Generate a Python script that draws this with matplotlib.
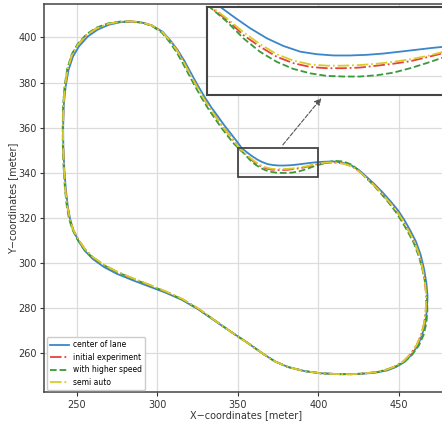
import matplotlib
matplotlib.use('Agg')
import matplotlib.pyplot as plt
from matplotlib.patches import Rectangle

# track coordinates
center_x = [413.6, 401.3, 391.2, 381.1, 373.0, 366.0, 355.9, 345.8, 335.7, 325.6, 315.5, 305.4, 295, 285, 275, 267, 260,
            255, 251, 248, 246, 244.6, 243.3, 242.4, 241.8, 241.7, 242.1, 243.2, 245.0, 247.8, 251.5, 257, 263, 270,
            277, 284, 291, 297, 303.4, 308.4, 312.9, 317.0, 321.0, 325.0, 329.3, 333.6, 337.7, 341.7, 345.8, 349.9,
            352.6, 355.3, 358.6, 362.0, 365.3, 368.7, 372.0, 375.4, 378.7, 382.1, 385.4, 388.8, 392.1, 395.4, 399.5,
            404.5, 409.6, 415.6, 420.7, 425.2, 429.8, 434.8, 439.9, 444.9, 449.5, 453.3, 457.0, 460.6, 463.6, 465.7,
            467.1, 467.8, 467.4, 466.4, 464.4, 461.6, 457.5, 453.3, 448.0, 442.9, 435.8, 427.7, 420.7, 413.6]
center_y = [250.7, 251.1, 252.1, 253.9, 256.4, 259.6, 264.7, 269.5, 274.4, 279.4, 283.6, 286.8, 289.6, 292.3, 295.2,
            298.2, 301.8, 305.5, 310.0, 314.5, 319.5, 325, 333, 342, 352, 360, 370, 378, 385.5, 391.5, 396, 400.4,
            403.4, 405.6, 406.7, 407.0, 406.5, 405.2, 402.5, 398.5, 394.2, 389.5, 384.2, 379, 373.8, 369, 365, 361,
            357.3, 353.5,
            350.85, 349.3, 347.5, 345.9, 344.7, 343.8, 343.4, 343.2, 343.2, 343.3, 343.5, 343.8, 344.1, 344.4, 344.7,
            344.9, 345.0, 344.4, 343.2, 341.2, 338.3, 335.0, 331.3, 327.3, 323.3, 319.2, 314.5, 309.5, 303.5, 297.1,
            291, 285.3, 279, 273.5, 268, 263.2, 259, 256, 253.8, 252.4, 251.4, 250.9, 250.7, 250.7]

initial_x = [413.6, 401.3, 391.2, 381.1, 373.0, 366.0, 355.9, 345.8, 335.7, 325.6, 315.5, 305.4, 295, 285, 275, 267, 260,
             255, 251, 247.8, 245.7, 244.2, 243.0, 242.2, 241.7, 241.6, 241.9, 242.8, 244.5, 247.2, 250.9, 256.4,
             262.5, 269.6, 276.8, 284, 291, 297, 303.4, 308.2, 312.6, 316.5, 320.4, 324.4, 328.5, 332.7, 336.7,
             340.6, 344.6, 348.5,
             350.9, 354.0, 357.3, 360.6, 364.0, 367.3, 370.7, 374.0, 377.4, 380.7, 384.1, 387.4, 390.8, 394.1, 397.1,
             404.5, 409.6, 415.6, 420.7, 424.9, 429.4, 434.3, 439.3, 444.2, 448.8, 452.5, 456.2, 459.8, 462.8, 464.9,
             466.3, 467.0, 466.7, 465.8, 463.9, 461.1, 457.1, 453.0, 447.8, 442.7, 435.8, 427.7, 420.7, 413.6]
initial_y = [250.7, 251.1, 252.1, 253.9, 256.4, 259.6, 264.7, 269.5, 274.6, 279.7, 284.0, 287.3, 290.3, 293.1, 296.1,
             299.1, 302.6, 306.3, 310.6, 314.9, 320, 325.5, 333, 342, 352, 360, 370, 378.3, 386, 392.2, 396.8, 401.1,
             404.0, 406.0, 406.9, 407.1, 406.6, 405.2, 402.3, 398.3, 393.9, 389.1, 383.8, 378.6, 373.4, 368.6, 364.5,
             360.5, 356.8, 353.2,
             350.6, 348.8, 346.4, 344.6, 343.0, 342.0, 341.4, 341.2, 341.2, 341.3, 341.6, 341.9, 342.3, 342.9, 343.5,
             344.3, 344.6, 344.1, 342.9, 340.9, 338.0, 334.7, 331.0, 326.9, 322.9, 318.8, 314.1, 309.1, 303.2, 297.0,
             291, 285.3, 279, 273.6, 268.3, 263.6, 259.5, 256.5, 254.2, 252.8, 251.6, 251.0, 250.7, 250.7]

speed_x = [413.6, 401.3, 391.2, 381.1, 373.0, 366.0, 355.9, 345.8, 335.7, 325.6, 315.5, 305.4, 295, 285, 275, 267, 260,
           254.7, 250.5, 247.3, 245.2, 243.9, 242.8, 242.0, 241.5, 241.4, 241.7, 242.6, 244.3, 247.0, 250.7, 256.2,
           262.3, 269.5, 276.8, 284, 291, 296.8, 303.0, 307.7, 312.0, 315.9, 319.8, 323.8, 328.0, 332.2, 336.2,
           340.1, 344.1, 348.0,
           351.0, 354.0, 357.3, 360.6, 364.0, 367.3, 370.7, 374.0, 377.4, 380.7, 384.1, 387.4, 390.8, 394.1, 397.1,
           404.5, 409.6, 415.6, 420.7, 424.7, 429.1, 433.8, 438.7, 443.6, 448.0, 451.8, 455.6, 459.3, 462.4, 464.7,
           466.4, 467.5, 467.7, 467.1, 465.3, 462.4, 458.3, 453.8, 448.3, 442.9, 435.8, 427.7, 420.7, 413.6]
speed_y = [250.7, 251.1, 252.1, 253.9, 256.4, 259.6, 264.7, 269.5, 274.6, 279.6, 283.9, 287.2, 290.2, 293.0, 296.0,
           299.0, 302.4, 306.0, 310.5, 315.0, 320, 325.5, 333, 342, 352, 360, 370, 378.5, 386.3, 392.5, 397.1, 401.4,
           404.3, 406.2, 407.0, 407.1, 406.5, 405.0, 402.1, 398.0, 393.5, 388.6, 383.3, 378.0, 372.7, 367.8, 363.7,
           359.7, 356.0, 352.6,
           350.5, 348.5, 345.9, 343.8, 342.2, 341.1, 340.4, 340.0, 339.9, 339.9, 340.1, 340.5, 341.2, 342.0, 342.8,
           344.4, 345.3, 345.0, 343.6, 341.3, 338.2, 334.8, 331.0, 326.8, 322.7, 318.5, 313.8, 308.8, 302.9, 296.9,
           291, 285.3, 279, 273.4, 268.0, 263.4, 259.4, 256.4, 254.2, 252.8, 251.5, 251.0, 250.7, 250.7]

semi_x = [413.6, 401.3, 391.2, 381.1, 373.0, 366.0, 355.9, 345.8, 335.7, 325.6, 315.5, 305.4, 295, 285, 275, 267, 260,
          255, 251, 247.8, 245.7, 244.2, 243.0, 242.2, 241.7, 241.6, 241.9, 242.8, 244.5, 247.2, 250.9, 256.4,
          262.5, 269.6, 276.8, 284, 291, 297, 303.4, 308.2, 312.6, 316.5, 320.4, 324.4, 328.5, 332.7, 336.7,
          340.6, 344.6, 348.5,
          351.0, 354.0, 357.4, 360.6, 364.0, 367.3, 370.7, 374.0, 377.4, 380.7, 384.1, 387.4, 390.8, 394.1, 397.1,
          404.5, 409.6, 415.6, 420.7, 424.9, 429.4, 434.3, 439.3, 444.2, 448.8, 452.5, 456.2, 459.8, 462.8, 464.9,
          466.3, 467.0, 466.7, 465.8, 463.9, 461.1, 457.1, 453.0, 447.8, 442.7, 435.8, 427.7, 420.7, 413.6]
semi_y = [250.7, 251.1, 252.1, 253.9, 256.4, 259.6, 264.7, 269.5, 274.6, 279.8, 284.1, 287.4, 290.4, 293.2, 296.2,
          299.2, 302.7, 306.3, 310.6, 314.9, 320, 325.5, 333, 342, 352, 360, 370, 378.3, 386, 392.2, 396.8, 401.1,
          404.0, 406.0, 406.9, 407.1, 406.6, 405.2, 402.3, 398.3, 393.9, 389.1, 383.8, 378.6, 373.4, 368.6, 364.5,
          360.5, 356.8, 353.2,
          350.8, 349.0, 346.8, 345.0, 343.4, 342.4, 341.8, 341.6, 341.6, 341.7, 341.9, 342.2, 342.6, 343.1, 343.7,
          344.5, 344.6, 344.1, 342.9, 340.9, 338.0, 334.7, 331.0, 326.9, 322.9, 318.8, 314.1, 309.1, 303.2, 297.0,
          291, 285.3, 279, 273.6, 268.3, 263.6, 259.5, 256.5, 254.2, 252.8, 251.6, 251.0, 250.7, 250.7]

labels = ['center of lane', 'initial experiment', 'with higher speed', 'semi auto']
zoom_box = (350, 400, 338, 351)

grid_c = '#dcdcdc'
spine_c = '#444444'

def draw_tracks(ax):
    ax.plot(center_x, center_y, '-', color='#3a86c8', lw=1.3, label=labels[0])
    ax.plot(initial_x, initial_y, '-.', color='#e8403a', lw=1.3, label=labels[1])
    ax.plot(speed_x, speed_y, '--', color='#3a9a3a', lw=1.3, label=labels[2])
    ax.plot(semi_x, semi_y, '-.', color='#d8cc2a', lw=1.3, label=labels[3])

fig = plt.figure(figsize=(4.42, 4.25), dpi=100)
ax = fig.add_axes([44.3 / 442, 33 / 425, 402.9 / 442, 388 / 425])
draw_tracks(ax)
ax.set_xlim(230, 480)
ax.set_ylim(242.8, 414.8)
ax.set_xticks([250, 300, 350, 400, 450])
ax.set_yticks([260, 280, 300, 320, 340, 360, 380, 400])
ax.grid(True, color=grid_c, lw=0.9)
ax.set_axisbelow(True)
for s in ax.spines.values():
    s.set_color(spine_c)
    s.set_linewidth(1.1)
ax.tick_params(labelsize=7, colors='#333333', length=3, pad=2.5)
ax.set_xlabel('X\u2212coordinates [meter]', fontsize=7, color='#333333', labelpad=0)
ax.set_ylabel('Y\u2212coordinates [meter]', fontsize=7, color='#333333', labelpad=0)
ax.legend(loc='lower left', fontsize=5.5, borderaxespad=0.3, framealpha=1,
          edgecolor='#cccccc', handlelength=2.5, handletextpad=0.6, labelspacing=0.45)

x0, x1, y0, y1 = zoom_box
ax.add_patch(Rectangle((x0, y0), x1 - x0, y1 - y0, fill=False,
                       edgecolor=spine_c, lw=1.3, zorder=5))
ax.annotate('', xy=(403, 374), xytext=(376.9, 351.4),
            arrowprops=dict(arrowstyle='-|>', ls='--', color='#555555', lw=0.8))

# zoomed inset
axins = fig.add_axes([207 / 442, 1 - 95 / 425, 249 / 442, 88 / 425])
draw_tracks(axins)
axins.set_xlim(350, 400)
axins.set_ylim(337, 350.8)
axins.set_xticks([])
axins.set_yticks([340])
axins.tick_params(length=0, labelleft=False)
axins.grid(True, color=grid_c, lw=0.9)
axins.set_axisbelow(True)
for s in axins.spines.values():
    s.set_color(spine_c)
    s.set_linewidth(1.5)

fig.savefig('out.png', dpi=100)
